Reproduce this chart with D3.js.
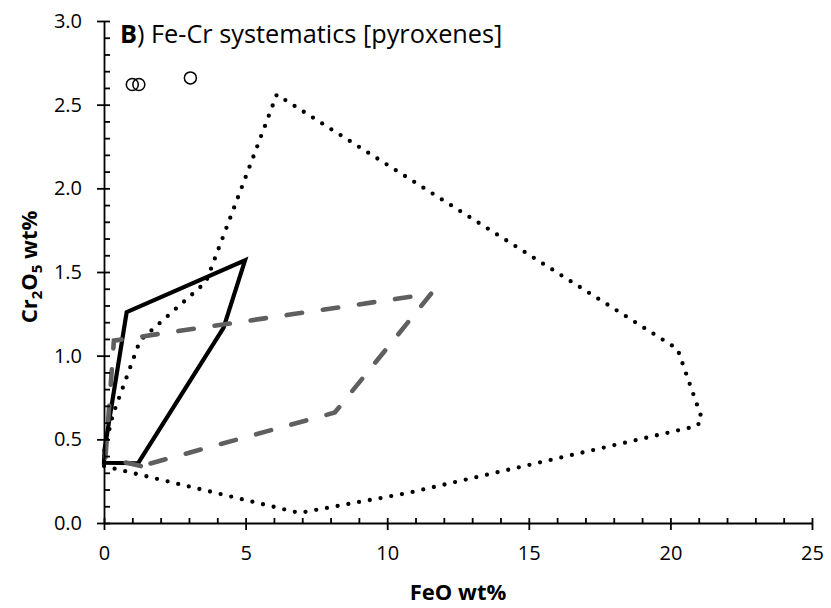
<!DOCTYPE html>
<html>
<head>
<meta charset="utf-8">
<script src="https://cdn.jsdelivr.net/npm/d3@7"></script>
<style>
  html, body { margin: 0; padding: 0; background: #fff; }
  svg { display: block; }
  text { font-family: "Open Sans", sans-serif; fill: #000; }
</style>
</head>
<body>
<svg id="chart" width="831" height="608"></svg>
<script>
// Analysed pyroxenes (FeO wt%, Cr2O5 wt%)
const samplePoints = [[1.0, 2.62], [1.23, 2.62], [3.05, 2.66]];

// Compositional fields, traced as closed outlines
const solidField = [[1.2, 0.357], [0.0, 0.36], [0.02, 0.44], [0.8, 1.26], [4.98, 1.57], [4.22, 1.166], [1.2, 0.357]];
const dottedField = [[0.0, 0.34], [6.9, 0.06], [10.75, 0.18], [20.94, 0.58], [21.12, 0.62], [20.25, 1.04],
                     [6.1, 2.56], [3.6, 1.44], [1.27, 1.09], [0.3, 0.64], [0.0, 0.42], [0.0, 0.34]];
const dashedField = [[1.3, 0.34], [0.05, 0.39], [0.35, 1.09], [11.55, 1.37], [8.15, 0.66], [1.3, 0.34]];

// Axis ticks
const xMajor = [0, 5, 10, 15, 20, 25];
const xMinor = d3.range(1, 25).filter(v => v % 5 !== 0);
const yMajor = [0, 0.5, 1.0, 1.5, 2.0, 2.5, 3.0];
const yMinor = d3.range(1, 30).filter(v => v % 5 !== 0).map(v => v / 10);

const svg = d3.select("#chart");
const x = d3.scaleLinear().domain([0, 25]).range([104, 812]);
const y = d3.scaleLinear().domain([0, 3]).range([523, 21]);

const line = d3.line().x(d => x(d[0])).y(d => y(d[1]));

// Field outlines
svg.append("path").datum(dottedField).attr("d", line)
  .attr("fill", "none").attr("stroke", "#000").attr("stroke-width", 4.3)
  .attr("stroke-linecap", "round").attr("stroke-dasharray", "0,10.9");

svg.append("path").datum(solidField).attr("d", line)
  .attr("fill", "none").attr("stroke", "#000").attr("stroke-width", 4.2)
  .attr("stroke-linejoin", "miter");

svg.append("path").datum(dashedField).attr("d", line)
  .attr("fill", "none").attr("stroke", "#5f5f5f").attr("stroke-width", 4.6)
  .attr("stroke-linecap", "round").attr("stroke-dasharray", "15.5,21");

// Sample markers
svg.append("g").selectAll("circle").data(samplePoints).join("circle")
  .attr("cx", d => x(d[0])).attr("cy", d => y(d[1])).attr("r", 6)
  .attr("fill", "none").attr("stroke", "#000").attr("stroke-width", 1.5);

// X axis: major ticks cross the line, minor ticks point inward
const gx = svg.append("g").attr("transform", `translate(0,${y(0)})`);
gx.call(d3.axisBottom(x).tickValues(xMajor).tickSizeInner(7).tickSizeOuter(0).tickPadding(16)
  .tickFormat(d3.format("d")));
svg.append("g").attr("transform", `translate(0,${y(0)})`)
  .call(d3.axisTop(x).tickValues(xMajor.concat(xMinor)).tickSize(5).tickFormat(""))
  .select(".domain").remove();

// Y axis
const gy = svg.append("g").attr("transform", `translate(${x(0)},0)`);
gy.call(d3.axisLeft(y).tickValues(yMajor).tickSizeInner(7).tickSizeOuter(0).tickPadding(15)
  .tickFormat(d3.format(".1f")));
svg.append("g").attr("transform", `translate(${x(0)},0)`)
  .call(d3.axisRight(y).tickValues(yMajor.concat(yMinor)).tickSize(6).tickFormat(""))
  .select(".domain").remove();

svg.selectAll(".domain, .tick line").attr("stroke", "#000").attr("stroke-width", 1.8);
svg.selectAll(".tick text").style("font-family", "'Open Sans', sans-serif")
  .style("font-size", "20px").attr("fill", "#000");

// Axis titles
svg.append("text").attr("x", 458).attr("y", 600).attr("text-anchor", "middle")
  .style("font-size", "22px").style("font-weight", "bold").text("FeO wt%");

const yt = svg.append("text").attr("transform", "translate(37,267) rotate(-90)")
  .attr("text-anchor", "middle").style("font-size", "22px").style("font-weight", "bold");
yt.append("tspan").text("Cr");
yt.append("tspan").attr("dy", 5).style("font-size", "15px").text("2");
yt.append("tspan").attr("dy", -5).text("O");
yt.append("tspan").attr("dy", 5).style("font-size", "15px").text("5");
yt.append("tspan").attr("dy", -5).text(" wt%");

// Panel title
const tt = svg.append("text").attr("x", 120).attr("y", 43).style("font-size", "25.3px");
tt.append("tspan").style("font-weight", "bold").text("B");
tt.append("tspan").text(") Fe-Cr systematics [pyroxenes]");
</script>
</body>
</html>
